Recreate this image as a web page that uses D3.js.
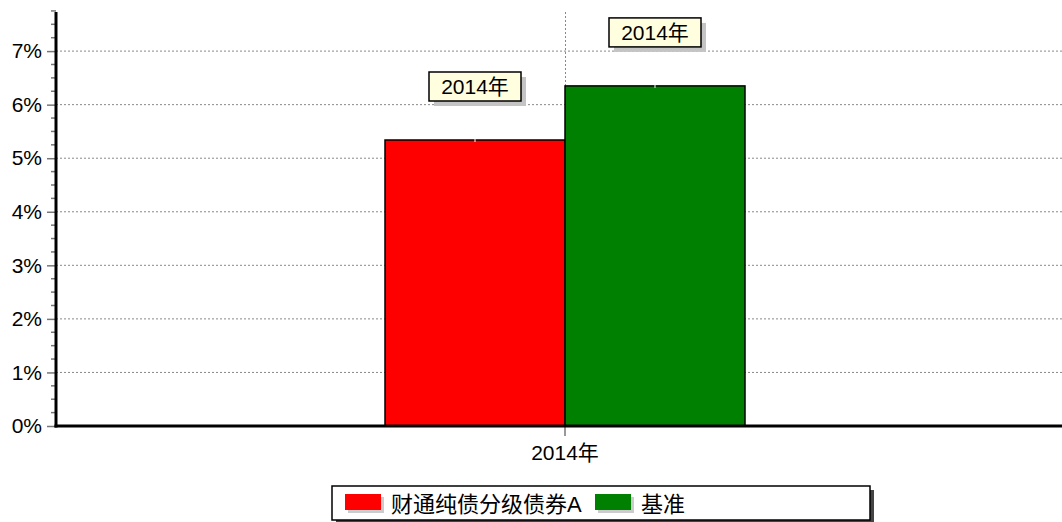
<!DOCTYPE html>
<html><head><meta charset="utf-8">
<script src="https://cdn.jsdelivr.net/npm/d3@7"></script>
<style>
body{margin:0;background:#fff;}
svg{display:block;font-family:"Liberation Sans",Arial,"Noto Sans CJK SC",sans-serif;}
</style></head>
<body>
<svg id="c" width="1062" height="522"></svg>
<script>
const categories = ["2014年"];
const seriesNames = ["财通纯债分级债券A", "基准"];
const seriesColors = ["#ff0000", "#008000"];
const seriesValues = [[5.34], [6.35]];
const pointLabels = [["2014年"], ["2014年"]];
const yTicks = [0, 1, 2, 3, 4, 5, 6, 7];
const yTickLabels = ["0%", "1%", "2%", "3%", "4%", "5%", "6%", "7%"];

(function () {
const svg = d3.select("#c");
const pL = 56, pR = 1074, pT = 12, pB = 426;
const y = d3.scaleLinear().domain([0, 7.73]).range([pB, pT]);
const x0 = d3.scaleBand().domain(categories).range([pL, pR]);
const cx = c => x0(c) + x0.bandwidth() / 2;
const x1 = d3.scaleBand().domain(seriesNames).range([-180, 180]);

// grid
const gGrid = svg.append("g");
gGrid.selectAll("line.h").data(yTicks.filter(d => d > 0)).join("line")
  .attr("x1", pL).attr("x2", 1062).attr("y1", d => y(d)).attr("y2", d => y(d))
  .attr("stroke", "#888").attr("stroke-width", 1).attr("stroke-dasharray", "2,2");
gGrid.selectAll("line.v").data(categories).join("line")
  .attr("x1", d => cx(d) + 0.5).attr("x2", d => cx(d) + 0.5).attr("y1", pT).attr("y2", pB)
  .attr("stroke", "#888").attr("stroke-width", 1).attr("stroke-dasharray", "2,2");

// bars
seriesNames.forEach((s, si) => {
  const g = svg.append("g");
  g.selectAll("rect").data(categories).join("rect")
    .attr("x", c => cx(c) + x1(s)).attr("width", x1.bandwidth())
    .attr("y", (c, i) => y(seriesValues[si][i]))
    .attr("height", (c, i) => pB - y(seriesValues[si][i]))
    .attr("fill", seriesColors[si]).attr("stroke", "#000").attr("stroke-width", 1.5);
  g.selectAll("line.mk").data(categories).join("line")
    .attr("x1", c => cx(c) + x1(s) + x1.bandwidth() / 2).attr("x2", c => cx(c) + x1(s) + x1.bandwidth() / 2)
    .attr("y1", (c, i) => y(seriesValues[si][i]) - 1).attr("y2", (c, i) => y(seriesValues[si][i]) + 2)
    .attr("stroke", "#fff").attr("stroke-width", 1);
});

// y axis
const yAxis = d3.axisLeft(y).tickValues(yTicks).tickFormat((d, i) => yTickLabels[i]).tickSize(9).tickPadding(5);
const gy = svg.append("g").attr("transform", `translate(${pL},0)`).call(yAxis);
gy.select(".domain").remove();
gy.selectAll(".tick line").attr("stroke", "#777").attr("stroke-width", 1.5);
gy.selectAll(".tick text").attr("font-size", 21).attr("fill", "#000")
  .attr("font-family", "'Liberation Sans',Arial,sans-serif");
const minor = d3.range(0, 7.76, 0.25).filter(d => Math.abs(d - Math.round(d)) > 0.01);
svg.append("g").selectAll("line").data(minor).join("line")
  .attr("x1", pL - 5).attr("x2", pL).attr("y1", d => y(d)).attr("y2", d => y(d))
  .attr("stroke", "#777").attr("stroke-width", 1.5);
svg.append("line").attr("x1", pL).attr("x2", pL).attr("y1", pT).attr("y2", pB + 1.5)
  .attr("stroke", "#000").attr("stroke-width", 3);

// x axis
const xAxis = d3.axisBottom(x0).tickSize(10).tickPadding(9);
const gx = svg.append("g").attr("transform", `translate(0,${pB})`).call(xAxis);
gx.select(".domain").remove();
gx.selectAll(".tick line").attr("stroke", "#777").attr("stroke-width", 1.5);
gx.selectAll(".tick text").attr("font-size", 21).attr("fill", "#000")
  .attr("font-family", "'Liberation Sans',Arial,'Noto Sans CJK SC',sans-serif");
svg.append("line").attr("x1", pL - 1.5).attr("x2", 1062).attr("y1", pB).attr("y2", pB)
  .attr("stroke", "#000").attr("stroke-width", 3);

// point labels
seriesNames.forEach((s, si) => {
  categories.forEach((c, i) => {
    const bx = cx(c) + x1(s) + x1.bandwidth() / 2;
    const by = y(seriesValues[si][i]) - 39;
    const w = 92, h = 29;
    const g = svg.append("g");
    g.append("rect").attr("x", bx - w / 2 + 5).attr("y", by - h + 5).attr("width", w).attr("height", h).attr("fill", "#c4c4c4");
    g.append("rect").attr("x", bx - w / 2).attr("y", by - h).attr("width", w).attr("height", h)
      .attr("fill", "#ffffe0").attr("stroke", "#000").attr("stroke-width", 1.5);
    g.append("text").attr("x", bx).attr("y", by - 7).attr("text-anchor", "middle")
      .attr("font-size", 21).text(pointLabels[si][i]);
  });
});

// legend
const lg = svg.append("g");
lg.append("rect").attr("x", 336).attr("y", 490).attr("width", 538).attr("height", 34).attr("fill", "#444");
lg.append("rect").attr("x", 332).attr("y", 486).attr("width", 538).attr("height", 34)
  .attr("fill", "#fff").attr("stroke", "#000").attr("stroke-width", 1.5);
const legX = [345, 595];
seriesNames.forEach((s, si) => {
  lg.append("rect").attr("x", legX[si] + 3).attr("y", 497).attr("width", 36).attr("height", 16).attr("fill", "#ccc");
  lg.append("rect").attr("x", legX[si]).attr("y", 494).attr("width", 36).attr("height", 16).attr("fill", seriesColors[si]);
  lg.append("text").attr("x", legX[si] + 46).attr("y", 512).attr("font-size", 22).text(s);
});
})();
</script>
</body></html>
